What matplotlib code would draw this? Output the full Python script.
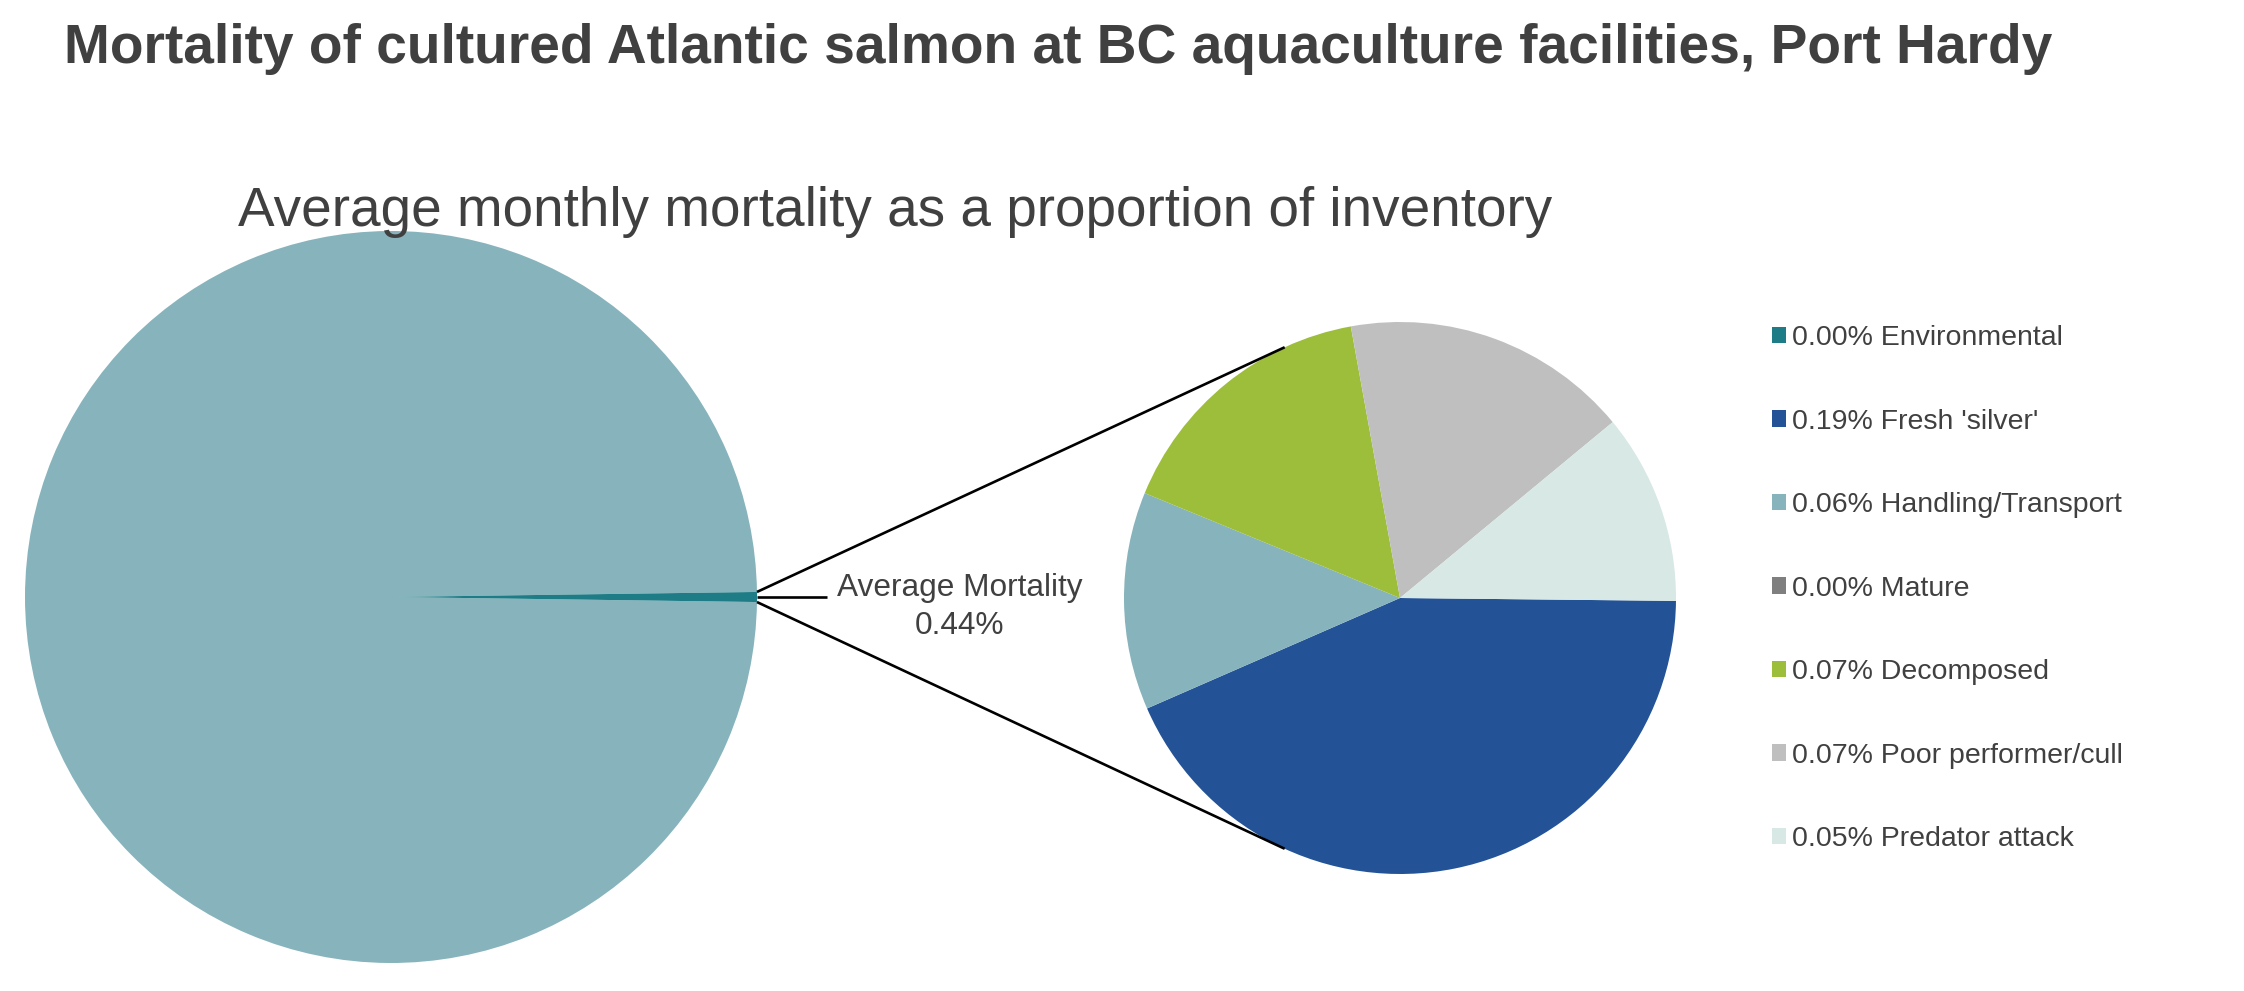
import numpy as np
import matplotlib
matplotlib.use("Agg")
import matplotlib.pyplot as plt

plt.rcParams["font.family"] = ["Liberation Sans", "DejaVu Sans"]

# mortality causes, % of inventory (monthly average)
causes = ["Environmental", "Fresh 'silver'", "Handling/Transport", "Mature",
          "Decomposed", "Poor performer/cull", "Predator attack"]
mortality = [0.0, 0.19, 0.056, 0.0, 0.07, 0.074, 0.049]
cause_colors = ["#1E7C86", "#235396", "#87B4BC", "#7F7F7F",
                "#9DBE3B", "#BFBFBF", "#D7E8E5"]

total_mort = sum(mortality)
main_values = [100 - total_mort, total_mort]
main_colors = ["#87B4BC", "#1E7C86"]

text_col = "#404040"
W, H = 2244, 991

fig = plt.figure(figsize=(W / 100, H / 100), dpi=100)
ax = fig.add_axes([0, 0, 1, 1])

# big pie, sliver centred at 3 o'clock
big_c = (391, H - 597)
big_r = 366
half = 180 * main_values[1] / 100
ax.pie(main_values, colors=main_colors, startangle=half, center=big_c,
       radius=big_r, wedgeprops=dict(linewidth=0))

# second pie with the breakdown
small_c = (1400, H - 598)
small_r = 276
wedges, _ = ax.pie(mortality, colors=cause_colors, startangle=-0.6,
                   counterclock=False, center=small_c, radius=small_r,
                   wedgeprops=dict(linewidth=0))

ax.set_xlim(0, W)
ax.set_ylim(0, H)
ax.set_aspect("equal")
ax.axis("off")

# connector lines
for sgn in (1, -1):
    a0 = np.radians(sgn * half)
    a1 = np.radians(sgn * 114.7)
    x0 = big_c[0] + big_r * np.cos(a0)
    y0 = big_c[1] + big_r * np.sin(a0)
    x1 = small_c[0] + small_r * np.cos(a1)
    y1 = small_c[1] + small_r * np.sin(a1)
    ax.plot([x0, x1], [y0, y1], color="black", lw=1.9, solid_capstyle="butt")

# data label for the sliver
ax.plot([big_c[0] + big_r, big_c[0] + big_r + 70], [big_c[1], big_c[1]],
        color="black", lw=1.9, solid_capstyle="butt")
ax.text(960, H - 607, "Average Mortality\n%.2f%%" % total_mort,
        ha="center", va="center", fontsize=22.8, color=text_col,
        linespacing=1.35)

fig.text(64 / W, 1 - 63 / H,
         "Mortality of cultured Atlantic salmon at BC aquaculture facilities, Port Hardy",
         fontsize=39.7, fontweight="bold", color=text_col, ha="left", va="baseline")
fig.text(895 / W, 1 - 226 / H,
         "Average monthly mortality as a proportion of inventory",
         fontsize=39.5, color=text_col, ha="center", va="baseline")

labels = ["%.2f%% %s" % (v, c) for v, c in zip(mortality, causes)]
ax.legend(wedges, labels, loc="upper left",
          bbox_to_anchor=(1772 / W, 1 - 325 / H), bbox_transform=fig.transFigure,
          frameon=False, fontsize=20.5, labelcolor=text_col,
          handlelength=0.5, handleheight=0.5, handletextpad=0.2,
          labelspacing=2.02, borderpad=0, borderaxespad=0)

fig.savefig("out.png", dpi=100, facecolor="white")
